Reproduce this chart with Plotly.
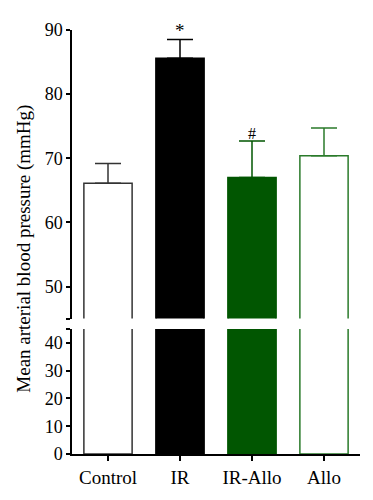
import plotly.graph_objects as go

categories = ["Control", "IR", "IR-Allo", "Allo"]
values = [66.1, 85.6, 67.0, 70.4]
errors = [3.1, 2.9, 5.7, 4.3]
marks = ["", "*", "#", ""]
mark_sizes = [0, 19, 16, 0]
fill_colors = ["white", "black", "#015601", "white"]
line_colors = ["#333333", "black", "#015601", "#2a7a2a"]

upper_ticks = [45, 50, 60, 70, 80, 90]
upper_text = ["", "50", "60", "70", "80", "90"]
lower_ticks = [0, 10, 20, 30, 40, 45]
lower_text = ["0", "10", "20", "30", "40", ""]

FONT = "Liberation Serif"

fig = go.Figure()
for c, v, e, fc, lc in zip(categories, values, errors, fill_colors, line_colors):
    # lower segment
    fig.add_trace(go.Bar(x=[c], y=[v], width=0.67, marker=dict(color=fc, line=dict(color=lc, width=1.5)),
                         xaxis="x", yaxis="y", showlegend=False, hoverinfo="skip"))
    # upper segment with error bar
    fig.add_trace(go.Bar(x=[c], y=[v], width=0.67, marker=dict(color=fc, line=dict(color=lc, width=1.5)),
                         error_y=dict(type="data", symmetric=False, array=[e], arrayminus=[0],
                                      color=lc, thickness=1.5, width=13),
                         xaxis="x2", yaxis="y2", showlegend=False, hoverinfo="skip"))

for c, v, e, m, s in zip(categories, values, errors, marks, mark_sizes):
    if m:
        fig.add_annotation(x=c, y=v + e, xref="x2", yref="y2", text=m, showarrow=False,
                           yanchor="bottom", yshift=-3, font=dict(family=FONT, size=s, color="black"))

fig.add_annotation(x=-0.167, y=0.484, xref="paper", yref="paper", text="Mean arterial blood pressure (mmHg)",
                   textangle=-90, showarrow=False, xanchor="center", yanchor="middle",
                   font=dict(family=FONT, size=19, color="black"))

common_y = dict(showline=True, linecolor="black", linewidth=1.5, ticks="outside", ticklen=4,
                tickwidth=1.5, tickcolor="black", showgrid=False, zeroline=False,
                tickfont=dict(family=FONT, size=18, color="black"))

fig.update_layout(
    width=365, height=492,
    margin=dict(l=64, r=13, t=15, b=45),
    plot_bgcolor="white", paper_bgcolor="white",
    barmode="overlay",
    xaxis=dict(domain=[0, 1], anchor="y", showline=True, linecolor="black", linewidth=1.5,
               ticks="outside", ticklen=5, tickwidth=1.5, tickcolor="black",
               tickfont=dict(family=FONT, size=19, color="black"), showgrid=False,
               range=[-0.5, 3.5]),
    xaxis2=dict(domain=[0, 1], anchor="y2", matches="x", visible=False, range=[-0.5, 3.5]),
    yaxis=dict(domain=[0, 0.2947], range=[0, 45], tickvals=lower_ticks, ticktext=lower_text, **common_y),
    yaxis2=dict(domain=[0.3194, 1], range=[45, 90], tickvals=upper_ticks, ticktext=upper_text, **common_y),
)

fig.write_html("out.html")
